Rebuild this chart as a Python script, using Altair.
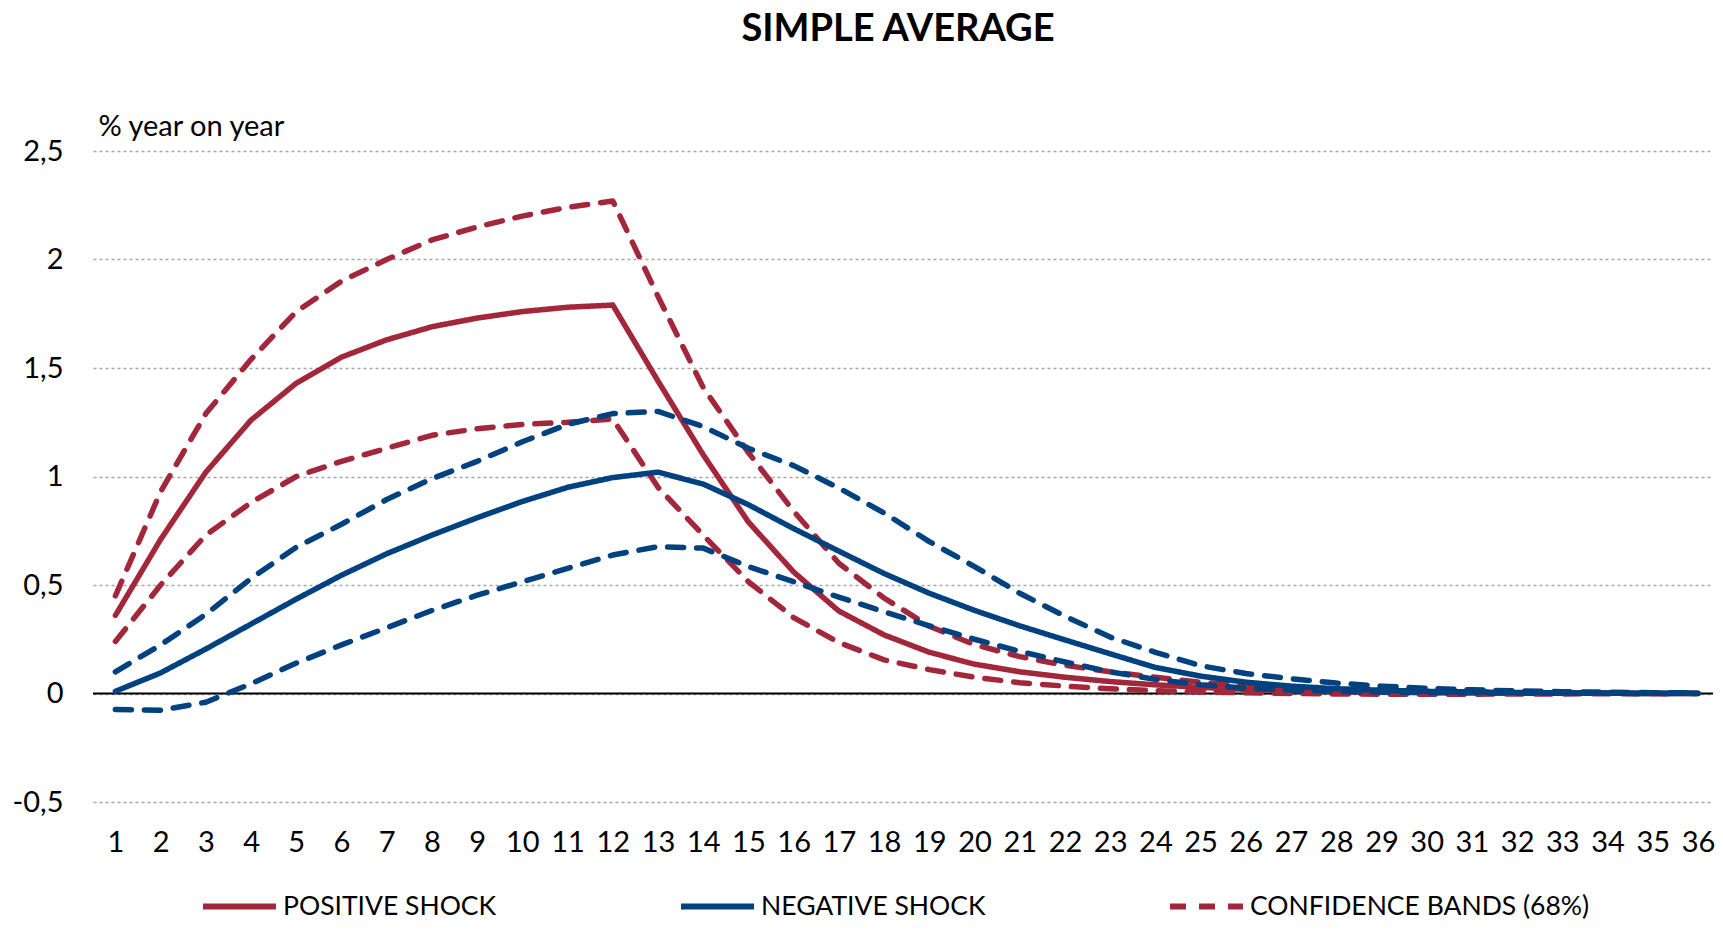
import altair as alt
import pandas as pd

months = list(range(1, 37))

positive_shock = [0.36, 0.71, 1.02, 1.26, 1.43, 1.55, 1.63, 1.69, 1.73, 1.76, 1.78, 1.79,
                  1.44, 1.10, 0.79, 0.56, 0.38, 0.27, 0.19, 0.135, 0.10, 0.075, 0.055, 0.04,
                  0.028, 0.019, 0.013, 0.009, 0.006, 0.004, 0.003, 0.002, 0.001, 0.001, 0.0, 0.0]
positive_upper = [0.45, 0.93, 1.29, 1.54, 1.76, 1.90, 2.00, 2.09, 2.15, 2.20, 2.24, 2.27,
                  1.83, 1.41, 1.11, 0.84, 0.60, 0.44, 0.31, 0.225, 0.17, 0.13, 0.10, 0.075,
                  0.052, 0.036, 0.025, 0.017, 0.012, 0.008, 0.006, 0.004, 0.003, 0.002, 0.001, 0.001]
positive_lower = [0.24, 0.50, 0.73, 0.88, 1.00, 1.07, 1.13, 1.19, 1.22, 1.24, 1.25, 1.265,
                  0.95, 0.73, 0.515, 0.35, 0.235, 0.155, 0.11, 0.075, 0.05, 0.034, 0.022, 0.013,
                  0.007, 0.003, 0.0, -0.002, -0.003, -0.003, -0.003, -0.002, -0.002, -0.001, -0.001, 0.0]
negative_shock = [0.01, 0.095, 0.205, 0.32, 0.435, 0.545, 0.644, 0.73, 0.81, 0.885, 0.95, 0.995,
                  1.02, 0.965, 0.87, 0.76, 0.656, 0.553, 0.462, 0.383, 0.312, 0.247, 0.183, 0.12,
                  0.08, 0.052, 0.034, 0.022, 0.015, 0.01, 0.007, 0.005, 0.003, 0.002, 0.001, 0.001]
negative_upper = [0.10, 0.224, 0.365, 0.53, 0.674, 0.78, 0.894, 0.99, 1.07, 1.16, 1.24, 1.29,
                  1.30, 1.23, 1.13, 1.05, 0.947, 0.832, 0.70, 0.585, 0.462, 0.356, 0.26, 0.19,
                  0.128, 0.092, 0.068, 0.048, 0.034, 0.024, 0.017, 0.012, 0.008, 0.006, 0.004, 0.003]
negative_lower = [-0.074, -0.077, -0.04, 0.045, 0.14, 0.224, 0.303, 0.383, 0.453, 0.515, 0.577, 0.638,
                  0.677, 0.67, 0.585, 0.515, 0.444, 0.377, 0.312, 0.25, 0.194, 0.145, 0.10, 0.065,
                  0.04, 0.025, 0.016, 0.01, 0.007, 0.005, 0.003, 0.002, 0.001, 0.001, 0.0, 0.0]

legend_names = ["POSITIVE SHOCK", "NEGATIVE SHOCK", "CONFIDENCE BANDS (68%)"]
RED = "#A3273A"
BLUE = "#00417F"
FONT = "Lato"
FS = 29
LFS = 26.5

series = [
    ("pos", "POSITIVE SHOCK", positive_shock),
    ("pos_up", "CONFIDENCE BANDS (68%)", positive_upper),
    ("pos_lo", "CONFIDENCE BANDS (68%)", positive_lower),
    ("neg", "NEGATIVE SHOCK", negative_shock),
    ("neg_up", "BLUE BAND", negative_upper),
    ("neg_lo", "BLUE BAND", negative_lower),
]
rows = []
for sid, leg, vals in series:
    for m, v in zip(months, vals):
        rows.append({"month": m, "value": v, "series": sid, "legend": leg})
df = pd.DataFrame(rows)

x_enc = alt.X("month:Q",
              scale=alt.Scale(domain=[0.5046, 36.332], nice=False, zero=False),
              axis=alt.Axis(values=months, format="d", grid=False, domain=False, ticks=False,
                            labelPadding=26, labelFontSize=FS, labelFont=FONT, labelColor="black",
                            title=None, labelFlush=False))
y_enc = alt.Y("value:Q",
              scale=alt.Scale(domain=[-0.5, 2.5], nice=False, zero=False),
              axis=alt.Axis(values=[-0.5, 0, 0.5, 1, 1.5, 2, 2.5],
                            labelExpr="replace(replace(format(datum.value, ''), '.', ','), '\u2212', '-')",
                            grid=True, gridDash=[3, 3], gridColor="#A6A6A6", gridWidth=1.3,
                            domain=False, ticks=False, labelPadding=30, labelFontSize=FS,
                            labelFont=FONT, labelColor="black",
                            title="% year on year", titleAngle=0, titleAlign="left",
                            titleBaseline="alphabetic", titleX=5, titleY=-16,
                            titleFontSize=FS, titleFont=FONT, titleFontWeight="normal",
                            titleColor="black"))

leg = alt.Legend(orient="none", legendX=107, legendY=716, direction="horizontal", title=None,
                 symbolType="stroke", symbolSize=5329, symbolStrokeWidth=6,
                 labelFontSize=LFS, labelFont=FONT, labelColor="black", labelOffset=4,
                 columnPadding=172, labelLimit=600)

color_enc = alt.Color("legend:N", scale=alt.Scale(domain=legend_names, range=[RED, BLUE, RED]),
                      legend=leg)
dash_enc = alt.StrokeDash("legend:N", scale=alt.Scale(domain=legend_names,
                                                      range=[[1, 0], [1, 0], [16, 13]]),
                          legend=leg)

base = alt.Chart(df)

zero_line = alt.Chart(pd.DataFrame({"y": [0]})).mark_rule(color="black", strokeWidth=2).encode(
    y=alt.Y("y:Q", scale=alt.Scale(domain=[-0.5, 2.5], nice=False, zero=False))
)

LW = 5.5

red_lines = base.transform_filter(
    alt.FieldOneOfPredicate(field="series", oneOf=["pos", "pos_up", "pos_lo"])
).mark_line(strokeWidth=LW, strokeCap="round", strokeJoin="round").encode(
    x=x_enc, y=y_enc, color=color_enc, strokeDash=dash_enc, detail="series:N"
)

blue_solid = base.transform_filter(
    alt.FieldOneOfPredicate(field="series", oneOf=["neg"])
).mark_line(strokeWidth=LW, strokeCap="round", strokeJoin="round").encode(
    x=x_enc, y=y_enc, color=color_enc, strokeDash=dash_enc, detail="series:N"
)

blue_dashed = base.transform_filter(
    alt.FieldOneOfPredicate(field="series", oneOf=["neg_up", "neg_lo"])
).mark_line(strokeWidth=LW, strokeCap="round", strokeJoin="round", strokeDash=[16, 13],
            color=BLUE).encode(
    x=x_enc, y=y_enc, detail="series:N"
)

chart = alt.layer(zero_line, red_lines, blue_solid, blue_dashed).properties(
    width=1620,
    height=651,
    padding={"left": 85, "top": 143, "right": 2, "bottom": 120},
    autosize=alt.AutoSizeParams(type="none"),
    title=alt.TitleParams("SIMPLE AVERAGE", fontSize=38, fontWeight="bold", font=FONT,
                          anchor="middle", color="black", offset=63, dx=-5),
).configure(font=FONT).configure_view(stroke=None)

chart.save("out.html", embed_options={"renderer": "svg", "actions": False})
